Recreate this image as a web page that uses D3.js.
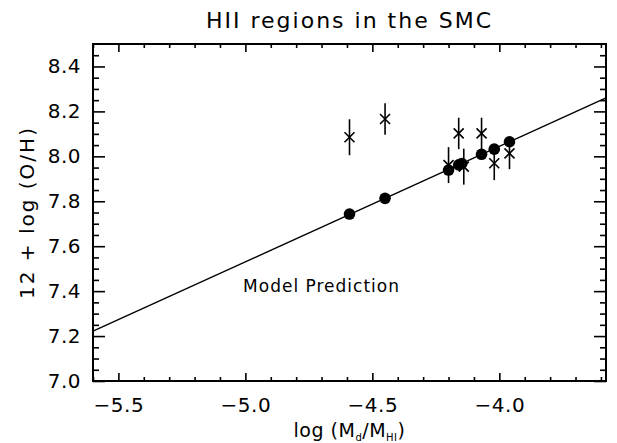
<!DOCTYPE html>
<html><head><meta charset="utf-8">
<script src="https://cdn.jsdelivr.net/npm/d3@7"></script>
<style>
body{margin:0;background:#fff;}
text{font-family:"DejaVu Sans",sans-serif;fill:#000;}
</style></head>
<body><svg id="c" width="617" height="443"></svg>
<script>
const titleText = "HII regions in the SMC";
const xMajorTicks = [-5.5, -5.0, -4.5, -4.0];
const xMinorTicks = [-5.6,-5.4,-5.3,-5.2,-5.1,-4.9,-4.8,-4.7,-4.6,-4.4,-4.3,-4.2,-4.1,-3.9,-3.8,-3.7,-3.6];
const yMajorTicks = [7.0, 7.2, 7.4, 7.6, 7.8, 8.0, 8.2, 8.4];
const yMinorTicks = [7.05,7.1,7.15,7.25,7.3,7.35,7.45,7.5,7.55,7.65,7.7,7.75,7.85,7.9,7.95,8.05,8.1,8.15,8.25,8.3,8.35,8.45];
// model prediction points (filled circles)
const modelX = [-4.59, -4.45, -4.20, -4.16, -4.148, -4.07, -4.02, -3.96];
const modelY = [7.743, 7.813, 7.939, 7.962, 7.968, 8.009, 8.032, 8.065];
// observed abundances (crosses with error bars)
const obsX = [-4.59, -4.45, -4.20, -4.16, -4.14, -4.07, -4.02, -3.96];
const obsY = [8.085, 8.166, 7.961, 8.102, 7.954, 8.102, 7.969, 8.013];
const obsErr = [0.08, 0.07, 0.08, 0.07, 0.08, 0.07, 0.075, 0.07];
// model line
const lineX = [-5.6, -3.58];
const lineY = [7.222, 8.26];

const svg = d3.select("#c");
const L = 93, R = 606, T = 44, B = 381;
const x = d3.scaleLinear().domain([-5.6, -3.58]).range([L, R]);
const y = d3.scaleLinear().domain([7.0, 8.5]).range([B, T]);
const fmt = d => d3.format(".1f")(d);

function ticks(axisFn, scale, vals, size, pos, labels, pad){
  const a = axisFn(scale).tickValues(vals).tickSizeInner(-size).tickSizeOuter(0)
    .tickFormat(labels ? fmt : () => "").tickPadding(pad||0);
  const g = svg.append("g").attr("transform", pos).call(a);
  g.select(".domain").remove();
  g.selectAll(".tick line").attr("stroke","#000").attr("stroke-width",1.6);
  g.selectAll("text").style("font-size","20px").style("letter-spacing","0.5px").attr("fill","#000");
  return g;
}
// bottom
ticks(d3.axisBottom, x, xMajorTicks, 8, `translate(0,${B})`, true, 17);
ticks(d3.axisBottom, x, xMinorTicks, 4, `translate(0,${B})`, false);
// top
ticks(d3.axisTop, x, xMajorTicks, 8, `translate(0,${T})`, false);
ticks(d3.axisTop, x, xMinorTicks, 4, `translate(0,${T})`, false);
// left
ticks(d3.axisLeft, y, yMajorTicks, 12, `translate(${L},0)`, true, 12);
ticks(d3.axisLeft, y, yMinorTicks, 6, `translate(${L},0)`, false);
// right
ticks(d3.axisRight, y, yMajorTicks, 12, `translate(${R},0)`, false);
ticks(d3.axisRight, y, yMinorTicks, 6, `translate(${R},0)`, false);

svg.append("rect").attr("x",L).attr("y",T).attr("width",R-L).attr("height",B-T)
  .attr("fill","none").attr("stroke","#000").attr("stroke-width",2);

// model line
const plot = svg.append("g");
plot.append("path").datum(d3.zip(lineX, lineY))
  .attr("d", d3.line().x(d=>x(d[0])).y(d=>y(d[1])))
  .attr("stroke","#000").attr("stroke-width",1.4).attr("fill","none");

// error bars
const obs = d3.zip(obsX, obsY, obsErr);
plot.selectAll(".eb").data(obs).join("line")
  .attr("x1",d=>x(d[0])).attr("x2",d=>x(d[0]))
  .attr("y1",d=>y(d[1]-d[2])).attr("y2",d=>y(d[1]+d[2]))
  .attr("stroke","#000").attr("stroke-width",1.6);
// crosses
const cs = 5;
plot.selectAll(".cx").data(obs).join("path")
  .attr("d",d=>{const cx=x(d[0]), cy=y(d[1]);
    return `M${cx-cs},${cy-cs}L${cx+cs},${cy+cs}M${cx-cs},${cy+cs}L${cx+cs},${cy-cs}`;})
  .attr("stroke","#000").attr("stroke-width",1.6).attr("fill","none");
// circles
plot.selectAll(".mc").data(d3.zip(modelX, modelY)).join("circle")
  .attr("cx",d=>x(d[0])).attr("cy",d=>y(d[1])).attr("r",5.8).attr("fill","#000");

// texts
svg.append("text").attr("x",(L+R)/2).attr("y",28).attr("text-anchor","middle")
  .style("font-size","22px").style("letter-spacing","2px").text(titleText);
svg.append("text").attr("x",x(-4.7)).attr("y",y(7.395)).attr("text-anchor","middle")
  .style("font-size","17px").style("letter-spacing","1px").text("Model Prediction");
const xl = svg.append("text").attr("x",(L+R)/2).attr("y",437).attr("text-anchor","middle")
  .style("font-size","19px").style("letter-spacing","0.5px");
xl.append("tspan").text("log (M");
xl.append("tspan").attr("dy",4).style("font-size","10px").text("d");
xl.append("tspan").attr("dy",-4).text("/M");
xl.append("tspan").attr("dy",4).style("font-size","10px").text("HI");
xl.append("tspan").attr("dy",-4).text(")");
svg.append("text").attr("transform",`translate(34,${(T+B)/2}) rotate(-90)`)
  .attr("text-anchor","middle").style("font-size","20px").style("letter-spacing","2px").text("12 + log (O/H)");
</script></body></html>
